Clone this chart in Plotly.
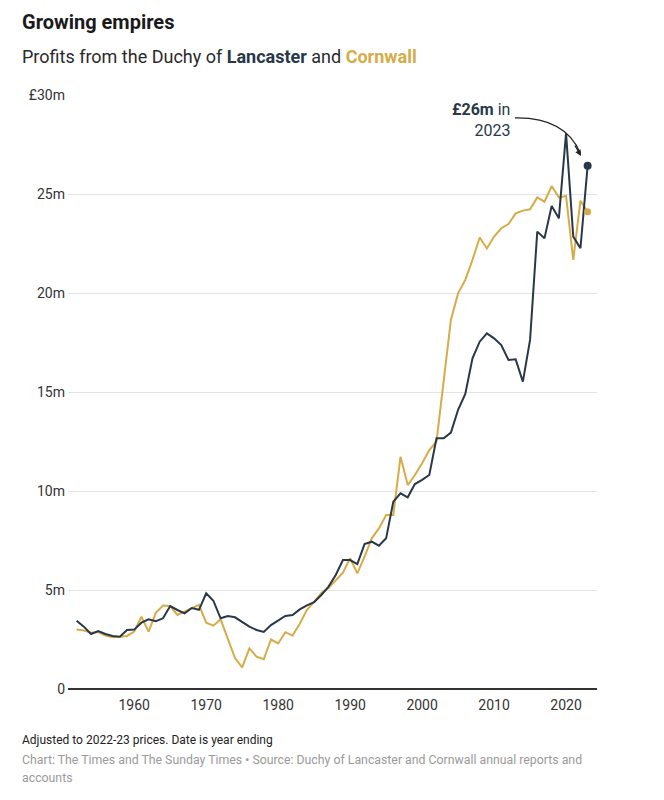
import plotly.graph_objects as go

years = list(range(1952, 2024))

lancaster = [
    3.45, 3.15, 2.78, 2.93, 2.78, 2.68, 2.64, 2.98, 3.00, 3.35,   # 1952-1961
    3.52, 3.42, 3.57, 4.19, 3.99, 3.82, 4.09, 4.00, 4.83, 4.46,   # 1962-1971
    3.57, 3.69, 3.62, 3.40, 3.15, 2.98, 2.88, 3.23, 3.48, 3.69,   # 1972-1981
    3.74, 4.02, 4.22, 4.39, 4.75, 5.17, 5.76, 6.51, 6.51, 6.31,   # 1982-1991
    7.32, 7.44, 7.24, 7.61, 9.46, 9.88, 9.68, 10.35, 10.56, 10.81,  # 1992-2001
    12.66, 12.66, 12.95, 14.10, 14.90, 16.70, 17.54, 17.96, 17.71, 17.37,  # 2002-2011
    16.62, 16.65, 15.52, 17.63, 23.10, 22.76, 24.39, 23.77, 28.06, 22.85,  # 2012-2021
    22.26, 26.43,  # 2022-2023
]

cornwall = [
    3.01, 2.95, 2.84, 2.88, 2.70, 2.61, 2.64, 2.68, 2.90, 3.65,   # 1952-1961
    2.90, 3.85, 4.22, 4.19, 3.74, 3.90, 4.05, 4.25, 3.35, 3.20,   # 1962-1971
    3.52, 2.53, 1.56, 1.09, 2.05, 1.63, 1.50, 2.50, 2.30, 2.87,   # 1972-1981
    2.70, 3.30, 4.00, 4.40, 4.85, 5.10, 5.50, 5.87, 6.60, 5.84,   # 1982-1991
    6.68, 7.61, 8.11, 8.79, 8.79, 11.73, 10.30, 10.81, 11.40, 12.07,  # 1992-2001
    12.50, 15.60, 18.64, 19.98, 20.66, 21.67, 22.80, 22.25, 22.85, 23.27,  # 2002-2011
    23.48, 24.02, 24.16, 24.23, 24.83, 24.61, 25.40, 24.83, 24.90, 21.67,  # 2012-2021
    24.66, 24.10,  # 2022-2023
]

y_tickvals = [0, 5, 10, 15, 20, 25, 30]
y_ticktext = ["0", "5m", "10m", "15m", "20m", "25m", "£30m"]
x_tickvals = [1960, 1970, 1980, 1990, 2000, 2010, 2020]
x_ticktext = ["1960", "1970", "1980", "1990", "2000", "2010", "2020"]

NAVY = "#293848"
GOLD = "#d6ac48"
FONT = "Roboto"

fig = go.Figure()
fig.add_trace(go.Scatter(x=years, y=cornwall, mode="lines",
                         line=dict(color=GOLD, width=2), cliponaxis=False,
                         hoverinfo="skip", showlegend=False))
fig.add_trace(go.Scatter(x=years, y=lancaster, mode="lines",
                         line=dict(color=NAVY, width=2), cliponaxis=False,
                         hoverinfo="skip", showlegend=False))
fig.add_trace(go.Scatter(x=[years[-1]], y=[cornwall[-1]], mode="markers",
                         marker=dict(color=GOLD, size=7), cliponaxis=False,
                         hoverinfo="skip", showlegend=False))
fig.add_trace(go.Scatter(x=[years[-1]], y=[lancaster[-1]], mode="markers",
                         marker=dict(color=NAVY, size=8), cliponaxis=False,
                         hoverinfo="skip", showlegend=False))

# page has an 8px body margin; figure sized to fit inside the window
OFF = 8
W, H = 664 - 2 * OFF, 800 - 2 * OFF
L = 68 - OFF
T = 95 - OFF
R = W - (597 - OFF)
B = H - (689 - OFF)
pw, ph = W - L - R, H - T - B
PAD = 2  # annotation inner padding

def px(x):
    return (x - OFF - PAD - L) / pw

def pxr(x):
    return (x - OFF + PAD - L) / pw

def py(y):
    return (H - B - (y - OFF)) / ph

annotations = [
    dict(text="<b>Growing empires</b>", x=px(22), y=py(22), xref="paper", yref="paper",
         xanchor="left", yanchor="middle", showarrow=False,
         font=dict(family=FONT, size=20, color="#1a1a1a")),
    dict(text=f"Profits from the Duchy of <b><span style='color:{NAVY}'>Lancaster</span></b> and "
              f"<b><span style='color:{GOLD}'>Cornwall</span></b>",
         x=px(22), y=py(57), xref="paper", yref="paper",
         xanchor="left", yanchor="middle", showarrow=False,
         font=dict(family=FONT, size=18, color="#2a2a2a")),
    dict(text="Adjusted to 2022-23 prices. Date is year ending",
         x=px(22), y=py(740), xref="paper", yref="paper",
         xanchor="left", yanchor="middle", showarrow=False,
         font=dict(family=FONT, size=12, color="#222222")),
    dict(text="Chart: The Times and The Sunday Times • Source: Duchy of Lancaster and Cornwall annual reports and",
         x=px(22), y=py(760), xref="paper", yref="paper",
         xanchor="left", yanchor="middle", showarrow=False,
         font=dict(family=FONT, size=12.3, color="#9a9a9a")),
    dict(text="accounts",
         x=px(22), y=py(778), xref="paper", yref="paper",
         xanchor="left", yanchor="middle", showarrow=False,
         font=dict(family=FONT, size=12.3, color="#9a9a9a")),
    dict(text="<b>£26m</b> in<br>2023", x=pxr(510), y=py(120), xref="paper", yref="paper",
         xanchor="right", yanchor="middle", align="right", showarrow=False,
         font=dict(family=FONT, size=16, color=NAVY)),
    dict(text="", x=2022.08, y=26.92, xref="x", yref="y", showarrow=True,
         ax=-7, ay=-12, arrowhead=2, arrowsize=1, arrowwidth=1.2, arrowcolor="#222222"),
]

shapes = [
    dict(type="path", xref="x", yref="y",
         path="M 2012.9,28.84 Q 2019.86,28.89 2022.0,27.05",
         line=dict(color="#222222", width=1.2)),
]

fig.update_layout(
    width=W, height=H,
    margin=dict(l=L, r=R, t=T, b=B),
    paper_bgcolor="white", plot_bgcolor="white",
    annotations=annotations, shapes=shapes,
    xaxis=dict(range=[1950.8, 2024.3], tickvals=x_tickvals, ticktext=x_ticktext,
               showgrid=False, zeroline=False, showline=False, ticks="",
               ticklabelstandoff=6,
               tickfont=dict(family=FONT, size=14, color="#333333")),
    yaxis=dict(range=[0, 30], tickvals=y_tickvals, ticktext=y_ticktext,
               showgrid=True, gridcolor="#e3e3e3", gridwidth=1,
               zeroline=True, zerolinecolor="#333333", zerolinewidth=1.5,
               ticks="", ticklabelstandoff=2,
               tickfont=dict(family=FONT, size=14, color="#333333")),
    font=dict(family=FONT),
)

fig.write_html("out.html")
